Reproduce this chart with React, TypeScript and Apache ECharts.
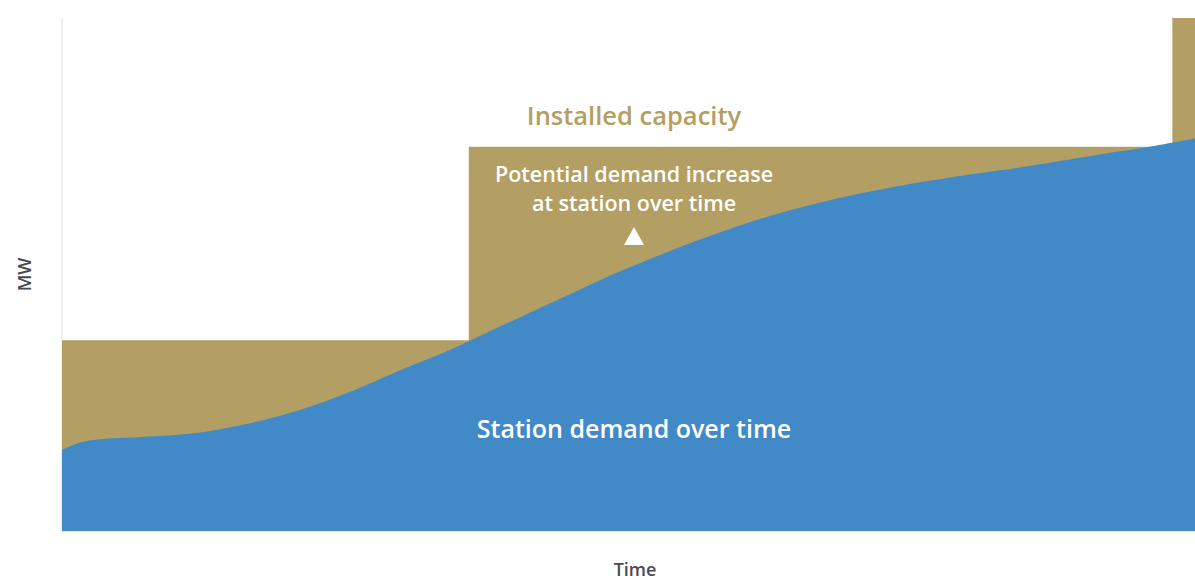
import React, { useEffect, useRef } from "react";
import * as echarts from "echarts";

// Time axis runs 0..100, MW axis runs 0..100 (indicative, no tick labels)
const demandTime = [0, 1.6, 3.4, 7.8, 12.2, 16.6, 21, 25.4, 29.8, 33.4, 35.9, 38.7, 43.1, 47.5, 51.9, 56.3, 60.7, 65.1, 69.6, 74, 78.4, 82.8, 87.2, 91.6, 96, 100];
const demandMW = [15.8, 17.25, 17.9, 18.4, 19.2, 21.0, 23.6, 27.1, 31.3, 34.5, 37.0, 39.9, 44.4, 48.9, 53.0, 56.8, 60.2, 63.0, 65.4, 67.3, 68.9, 70.3, 71.8, 73.4, 74.9, 76.5];

// Installed capacity steps up twice over the period
const capacityTime = [0, 35.9, 35.9, 98, 98, 100];
const capacityMW = [37.2, 37.2, 74.9, 74.9, 100, 100];

const TAN = "#B39E63";
const BLUE = "#4289C8";
const FONT = "'Open Sans', 'Noto Sans', sans-serif";

export default function App() {
  const ref = useRef<HTMLDivElement>(null);

  useEffect(() => {
    if (!ref.current) return;
    const chart = echarts.init(ref.current, null, { renderer: "svg" });
    chart.setOption({
      animation: false,
      grid: { left: 62, right: 0, top: 18, bottom: 49, outerBoundsMode: "none", containLabel: false },
      xAxis: {
        type: "value",
        min: 0,
        max: 100,
        name: "Time",
        nameLocation: "middle",
        nameGap: 29,
        nameTextStyle: { color: "#4a4a52", fontSize: 18, fontWeight: 600, fontFamily: FONT, padding: [0, 0, 0, 13] },
        axisLine: { show: true, lineStyle: { color: "#dde3ea", width: 1.5 } },
        axisTick: { show: false },
        axisLabel: { show: false },
        splitLine: { show: false },
      },
      yAxis: {
        type: "value",
        min: 0,
        max: 100,
        name: "MW",
        nameLocation: "middle",
        nameGap: 29,
        nameTextStyle: { color: "#4a4a52", fontSize: 18, fontWeight: 600, fontFamily: FONT },
        axisLine: { show: true, lineStyle: { color: "#e8e8e8", width: 1.5 } },
        axisTick: { show: false },
        axisLabel: { show: false },
        splitLine: { show: false },
      },
      series: [
        {
          name: "Installed capacity",
          type: "line",
          data: capacityTime.map((t, i) => [t, capacityMW[i]]),
          symbol: "none",
          lineStyle: { width: 0 },
          areaStyle: { color: TAN, opacity: 1 },
          z: 2,
        },
        {
          name: "Station demand over time",
          type: "line",
          data: demandTime.map((t, i) => [t, demandMW[i]]),
          symbol: "none",
          smooth: 0.3,
          lineStyle: { width: 0 },
          areaStyle: { color: BLUE, opacity: 1 },
          z: 3,
        },
      ],
      graphic: [
        {
          type: "text",
          x: 634,
          y: 115,
          style: { text: "Installed capacity", fill: TAN, font: `600 25.5px ${FONT}`, align: "center", verticalAlign: "middle" },
          z: 10,
        },
        {
          type: "text",
          x: 634,
          y: 188,
          style: {
            text: "Potential demand increase\nat station over time",
            fill: "#ffffff",
            font: `600 21.5px ${FONT}`,
            lineHeight: 29,
            align: "center",
            verticalAlign: "middle",
          },
          z: 10,
        },
        {
          type: "polygon",
          shape: { points: [[634, 227], [644, 245], [624, 245]] },
          style: { fill: "#ffffff" },
          z: 10,
        },
        {
          type: "text",
          x: 634,
          y: 428,
          style: { text: "Station demand over time", fill: "#ffffff", font: `600 25px ${FONT}`, align: "center", verticalAlign: "middle" },
          z: 10,
        },
      ],
    });
    return () => chart.dispose();
  }, []);

  return <div ref={ref} style={{ position: "absolute", left: 0, top: 0, width: 1195, height: 580 }} />;
}
